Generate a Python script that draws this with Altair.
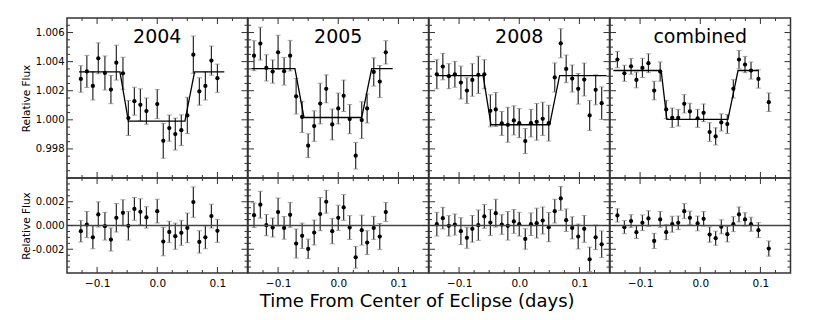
import altair as alt
import pandas as pd

FONT = "DejaVu Sans"

# ---------------- data ----------------
panel_labels = ["2004", "2005", "2008", "combined"]

t_2004 = [-0.127, -0.117, -0.107, -0.098, -0.087, -0.077, -0.068, -0.057, -0.048, -0.038, -0.028, -0.018,
          0.000, 0.010, 0.020, 0.030, 0.040, 0.050, 0.060, 0.070, 0.080, 0.090, 0.100]
f_2004 = [1.00281, 1.00333, 1.00233, 1.00423, 1.00322, 1.00208, 1.00393, 1.00320, 1.00012, 1.00128, 1.00103, 1.00060,
          1.00108, 0.99856, 0.99943, 0.99902, 0.99929, 1.00030, 1.00448, 1.00195, 1.00233, 1.00407, 1.00286]
e_2004 = [0.00091, 0.00110, 0.00097, 0.00106, 0.00117, 0.00097, 0.00120, 0.00110, 0.00120, 0.00096, 0.00110, 0.00090,
          0.00100, 0.00120, 0.00090, 0.00110, 0.00105, 0.00125, 0.00128, 0.00094, 0.00097, 0.00100, 0.00097]
r_2004 = [-0.00048, 0.00008, -0.00099, 0.00093, -0.00006, -0.00118, 0.00065, 0.00107, -0.00003, 0.00140, 0.00115, 0.00068,
          0.00121, -0.00135, -0.00054, -0.00090, -0.00062, -0.00020, 0.00197, -0.00138, -0.00099, 0.00079, -0.00045]
mt_2004 = [-0.130, -0.062, -0.048, 0.046, 0.062, 0.1115]
mf_2004 = [1.00329, 1.00329, 0.99991, 0.99991, 1.00329, 1.00329]

t_2005 = [-0.140, -0.1295, -0.1195, -0.109, -0.100, -0.090, -0.080, -0.070, -0.060, -0.050, -0.040, -0.030,
          -0.020, -0.010, 0.000, 0.009, 0.019, 0.029, 0.039, 0.048, 0.059, 0.069, 0.079]
f_2005 = [1.00441, 1.00524, 1.00357, 1.00332, 1.00464, 1.00334, 1.00441, 1.00162, 1.00020, 0.99822, 0.99957, 1.00112,
          1.00213, 0.99968, 1.00078, 1.00165, 1.00005, 0.99753, 0.99998, 1.00078, 1.00329, 1.00263, 1.00464]
e_2005 = [0.00103, 0.00113, 0.00090, 0.00080, 0.00118, 0.00095, 0.00105, 0.00122, 0.00107, 0.00082, 0.00105, 0.00140,
          0.00096, 0.00106, 0.00106, 0.00108, 0.00100, 0.00091, 0.00126, 0.00100, 0.00097, 0.00110, 0.00080]
r_2005 = [0.00087, 0.00175, 0.00003, -0.00017, 0.00113, -0.00020, 0.00090, -0.00152, -0.00087, -0.00197, -0.00059, 0.00096,
          0.00200, -0.00048, 0.00065, 0.00152, -0.00017, -0.00268, -0.00039, -0.00144, -0.00020, -0.00093, 0.00113]
mt_2005 = [-0.1445, -0.072, -0.057, 0.039, 0.0556, 0.0905]
mf_2005 = [1.00352, 1.00352, 1.00016, 1.00016, 1.00352, 1.00352]

t_2008 = [-0.137, -0.127, -0.117, -0.107, -0.097, -0.087, -0.078, -0.068, -0.058, -0.048, -0.039, -0.029, -0.019,
          -0.009, 0.000, 0.010, 0.0195, 0.029, 0.039, 0.049, 0.059, 0.069, 0.078, 0.088, 0.098, 0.108, 0.117, 0.127, 0.137]
f_2008 = [1.00313, 1.00366, 1.00300, 1.00313, 1.00256, 1.00201, 1.00274, 1.00309, 1.00313, 1.00062, 1.00071, 0.99975,
          0.99966, 0.99996, 0.99977, 0.99854, 0.99977, 0.99986, 1.00007, 0.99977, 1.00291, 1.00526, 1.00350, 1.00284,
          1.00213, 1.00277, 1.00030, 1.00206, 1.00114]
e_2008 = [0.00100, 0.00091, 0.00086, 0.00089, 0.00113, 0.00088, 0.00112, 0.00128, 0.00100, 0.00110, 0.00117, 0.00082,
          0.00120, 0.00100, 0.00100, 0.00086, 0.00095, 0.00126, 0.00114, 0.00123, 0.00100, 0.00100, 0.00095, 0.00093,
          0.00105, 0.00113, 0.00103, 0.00103, 0.00112]
r_2008 = [0.00011, 0.00062, -0.00003, 0.00008, -0.00048, -0.00104, -0.00028, 0.00003, 0.00076, 0.00025, 0.00104, 0.00008,
          -0.00003, 0.00034, 0.00011, -0.00113, 0.00011, 0.00020, 0.00042, -0.00014, 0.00121, 0.00228, 0.00045, -0.00020,
          -0.00093, -0.00028, -0.00285, -0.00099, -0.00158]
mt_2008 = [-0.1375, -0.060, -0.047, 0.0505, 0.067, 0.145]
mf_2008 = [1.00304, 1.00304, 0.99966, 0.99966, 1.00304, 1.00304]

t_comb = [-0.1377, -0.1261, -0.1150, -0.1061, -0.0961, -0.0861, -0.0766, -0.0666, -0.0566, -0.0466, -0.0366, -0.0266,
          -0.0172, -0.0044, 0.0056, 0.0156, 0.0256, 0.0350, 0.0450, 0.0550, 0.0644, 0.0744, 0.0844, 0.0967, 0.1139]
f_comb = [1.00414, 1.00320, 1.00368, 1.00274, 1.00357, 1.00389, 1.00201, 1.00332, 1.00071, 1.00014, 1.00014, 1.00110,
          1.00058, 1.00010, 1.00048, 0.99916, 0.99886, 0.99982, 0.99971, 1.00213, 1.00414, 1.00380, 1.00339, 1.00281,
          1.00121]
e_comb = [0.00056, 0.00055, 0.00054, 0.00054, 0.00066, 0.00065, 0.00064, 0.00066, 0.00063, 0.00067, 0.00057, 0.00063,
          0.00056, 0.00062, 0.00061, 0.00064, 0.00059, 0.00059, 0.00065, 0.00063, 0.00063, 0.00056, 0.00059, 0.00063,
          0.00064]
r_comb = [0.00085, -0.00014, 0.00037, -0.00056, 0.00023, 0.00059, -0.00130, 0.00051, -0.00056, 0.00011, 0.00023, 0.00121,
          0.00065, 0.00017, 0.00056, -0.00076, -0.00107, -0.00011, -0.00073, 0.00011, 0.00093, 0.00051, 0.00011, -0.00039,
          -0.00194]
mt_comb = [-0.1444, -0.065, -0.0555, 0.046, 0.0628, 0.097]
mf_comb = [1.00339, 1.00339, 1.00003, 1.00003, 1.00339, 1.00339]

# axis tick values
x_major = [-0.1, 0.0, 0.1]
x_minor = [-0.125, -0.075, -0.05, -0.025, 0.025, 0.05, 0.075, 0.125]
top_major = [0.998, 1.000, 1.002, 1.004, 1.006]
top_minor = [0.9965, 0.997, 0.9975, 0.9985, 0.999, 0.9995, 1.0005, 1.001, 1.0015,
             1.0025, 1.003, 1.0035, 1.0045, 1.005, 1.0055, 1.0065]
bot_major = [-0.002, 0.0, 0.002]
bot_minor = [-0.0035, -0.003, -0.0025, -0.0015, -0.001, -0.0005, 0.0005, 0.001, 0.0015,
             0.0025, 0.003, 0.0035]
zero_line = [0.0]

X_DOMAIN = [-0.15, 0.15]
TOP_DOMAIN = [0.996, 1.007]
BOT_DOMAIN = [-0.004, 0.004]
W, HT, HB = 180.5, 160, 95
MAJ, MIN = 6, 3
FRAME = "#333333"


def make_panel(t, vals, err, mt, mf, label, first_col, top):
    H = HT if top else HB
    xs = alt.Scale(domain=X_DOMAIN, nice=False, zero=False)
    ys = alt.Scale(domain=TOP_DOMAIN if top else BOT_DOMAIN, nice=False, zero=False)
    if top:
        xaxis = None
    else:
        xaxis = alt.Axis(values=x_major, format=".1f", title=None, ticks=False, tickSize=0,
                         domain=False, grid=False, labelFont=FONT, labelFontSize=10.5,
                         labelPadding=5, labelColor="black")
    if first_col:
        common = dict(title="Relative Flux", ticks=False, tickSize=0, domain=False, grid=False,
                      labelFont=FONT, labelFontSize=10, labelPadding=3, labelColor="black",
                      titleFont=FONT, titleFontSize=10.5, titleFontWeight="normal",
                      titleColor="black", titlePadding=6, minExtent=30, maxExtent=30)
        if top:
            yaxis = alt.Axis(values=top_major, format=".3f", **common)
        else:
            yaxis = alt.Axis(values=bot_major,
                             labelExpr="replace(format(datum.value, '.3f'), '\u2212', '-')",
                             **common)
    else:
        yaxis = None

    def X(f):
        return alt.X(f, type="quantitative", scale=xs, axis=xaxis)

    def Y(f):
        return alt.Y(f, type="quantitative", scale=ys, axis=yaxis)

    df = pd.DataFrame({"t": t, "v": vals, "e": err})
    df["lo"] = df["v"] - df["e"]
    df["hi"] = df["v"] + df["e"]
    base = alt.Chart(df)
    layers = [
        base.mark_rule(color="#2a2a2a", strokeWidth=1.2).encode(x=X("t"), y=Y("lo"), y2="hi"),
        base.mark_tick(orient="horizontal", size=5, thickness=1, color="#808080").encode(x=X("t"), y=Y("lo")),
        base.mark_tick(orient="horizontal", size=5, thickness=1, color="#808080").encode(x=X("t"), y=Y("hi")),
        base.mark_circle(size=18, color="black", opacity=1).encode(x=X("t"), y=Y("v")),
    ]
    if top:
        mdf = pd.DataFrame({"t": mt, "m": mf})
        layers.append(alt.Chart(mdf).mark_line(color="black", strokeWidth=1.3).encode(x=X("t"), y=Y("m")))
        layers.append(alt.Chart(pd.DataFrame({"label": [label]})).mark_text(
            font=FONT, fontSize=19, color="black", align="center", baseline="alphabetic"
        ).encode(x=alt.value(W / 2), y=alt.value(25), text="label:N"))
    else:
        layers.append(alt.Chart(pd.DataFrame({"z": zero_line})).mark_rule(
            color="#444444", strokeWidth=1.6).encode(y=Y("z")))

    # inward ticks on all four sides
    ymaj = top_major if top else bot_major
    ymin = top_minor if top else bot_minor
    for vals_, L in ((x_major, MAJ), (x_minor, MIN)):
        tk = alt.Chart(pd.DataFrame({"tv": vals_})).mark_rule(color=FRAME, strokeWidth=1)
        layers.append(tk.encode(x=X("tv"), y=alt.value(H), y2=alt.value(H - L)))
        layers.append(tk.encode(x=X("tv"), y=alt.value(0), y2=alt.value(L)))
    for vals_, L in ((ymaj, MAJ), (ymin, MIN)):
        tk = alt.Chart(pd.DataFrame({"tv": vals_})).mark_rule(color=FRAME, strokeWidth=1)
        layers.append(tk.encode(y=Y("tv"), x=alt.value(0), x2=alt.value(L)))
        layers.append(tk.encode(y=Y("tv"), x=alt.value(W), x2=alt.value(W - L)))
    return alt.layer(*layers).properties(width=W, height=H)


sets = [
    (t_2004, f_2004, e_2004, r_2004, mt_2004, mf_2004),
    (t_2005, f_2005, e_2005, r_2005, mt_2005, mf_2005),
    (t_2008, f_2008, e_2008, r_2008, mt_2008, mf_2008),
    (t_comb, f_comb, e_comb, r_comb, mt_comb, mf_comb),
]

top_row = [make_panel(s[0], s[1], s[2], s[4], s[5], lab, i == 0, True)
           for i, (s, lab) in enumerate(zip(sets, panel_labels))]
bot_row = [make_panel(s[0], s[3], s[2], s[4], s[5], lab, i == 0, False)
           for i, (s, lab) in enumerate(zip(sets, panel_labels))]

chart = alt.concat(*top_row, *bot_row, columns=4, spacing=0, bounds="flush").properties(
    title=alt.TitleParams("Time From Center of Eclipse (days)", orient="bottom", anchor="middle",
                          font=FONT, fontSize=18, fontWeight="normal", color="black",
                          offset=4, dx=11),
    padding={"left": 12, "top": 8, "right": 5, "bottom": 5},
).configure_view(stroke=FRAME, strokeWidth=1.5)

chart.save("out.html", embed_options={"renderer": "svg", "actions": False})
